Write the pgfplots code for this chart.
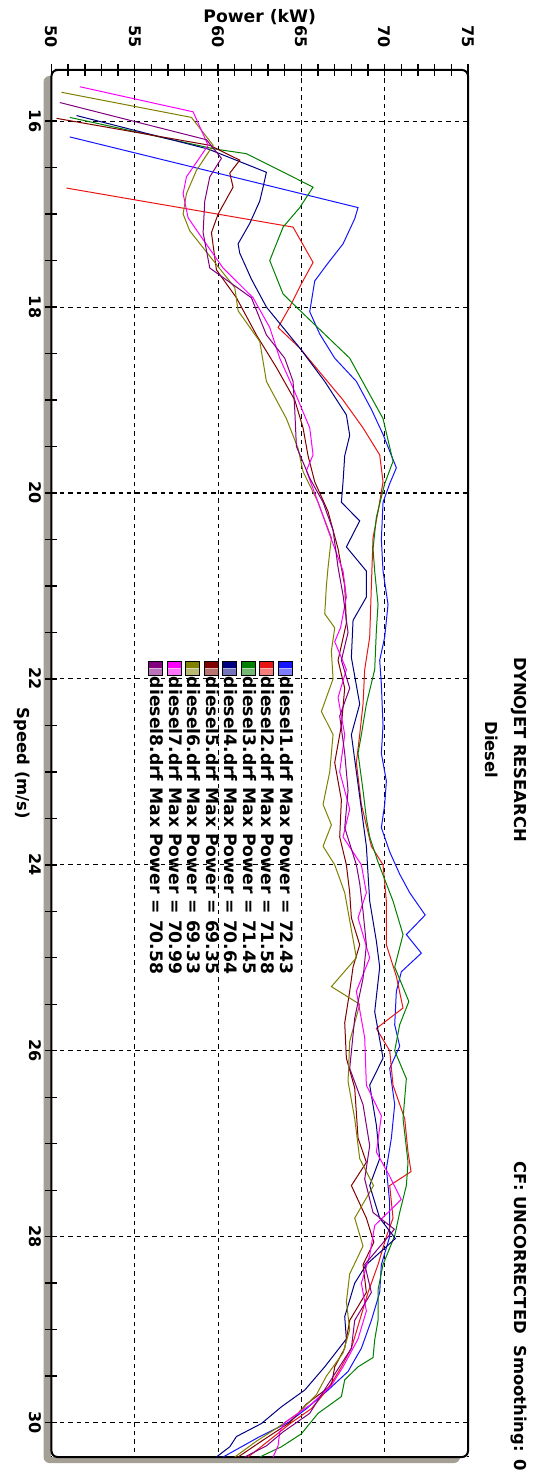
\documentclass[border=0pt]{standalone}
\usepackage{graphicx}
\usepackage{fontspec}
\setmainfont{DejaVu Sans}
\usepackage{pgfplots}
\pgfplotsset{compat=1.18}
\definecolor{cA}{RGB}{20,20,255}
\definecolor{cB}{RGB}{235,20,20}
\definecolor{cC}{RGB}{0,128,0}
\definecolor{cD}{RGB}{0,0,128}
\definecolor{cE}{RGB}{128,0,0}
\definecolor{cF}{RGB}{128,128,0}
\definecolor{cG}{RGB}{255,0,255}
\definecolor{cH}{RGB}{128,0,128}
\definecolor{shadowgray}{RGB}{165,160,150}
\begin{document}
\rotatebox{-90}{%
\begin{tikzpicture}
\fill[shadowgray, rounded corners=3pt] (3pt,-4pt) rectangle (696.5pt,204.25pt);
\begin{axis}[
  at={(0pt,0pt)}, anchor=south west,
  scale only axis, width=693.5pt, height=208.25pt,
  xmin=15.45, xmax=30.37, ymin=50, ymax=75,
  xtick={16,18,...,30}, ytick={50,55,...,75},
  minor x tick num=3, minor y tick num=4,
  grid=major,
  major grid style={black, line width=0.55pt, dash pattern=on 2.2pt off 2pt},
  tick align=center, major tick length=6pt, minor tick length=6pt,
  tick style={black, line width=0.7pt},
  xtick pos=bottom, ytick pos=left,
  axis line style={line width=1pt, black, rounded corners=3pt},
  axis background/.style={fill=white},
  /pgf/number format/assume math mode=true,
  ticklabel style={font=\bfseries\fontsize{8}{9.6}\selectfont},
  xticklabel style={anchor=north, inner sep=0pt, yshift=-2pt},
  yticklabel style={anchor=east, inner sep=0pt, xshift=-8pt},
  legend style={at={(axis cs:21.80,64.6)}, anchor=north west, draw=none, fill=none,
    inner sep=0pt, font=\bfseries\fontsize{8.6}{9}\selectfont, row sep=0pt,
    nodes={inner sep=0.6pt}},
  legend cell align=left,
  legend image code/.code={
    \fill (0pt,-3.5pt) rectangle (7pt,3.5pt);
    \fill[white, opacity=0.45] (3.5pt,-3.5pt) rectangle (7pt,3.5pt);
    \draw[black, line width=0.5pt] (0pt,-3.5pt) rectangle (7pt,3.5pt);
  },
  every axis plot/.append style={line width=0.5pt},
]
% diesel1 (blue)
\addplot[cA] coordinates {
(16.17,51.1)(16.93,68.4)(17.05,68.2)(17.32,67.5)(17.55,66.5)(17.72,65.8)(18.05,65.5)(18.29,66.1)
(18.55,67.0)(18.80,68.3)(19.10,69.2)(19.37,69.9)(19.73,70.7)(19.90,70.3)(20.10,69.9)(20.50,69.8)
(20.84,69.9)(21.20,70.2)(21.55,70.0)(21.80,69.7)(22.06,69.8)(22.50,69.9)(22.80,69.8)(23.10,70.1)
(23.35,70.0)(23.60,69.8)(23.86,70.3)(24.10,70.9)(24.30,71.5)(24.54,72.43)(24.75,71.3)(24.95,72.2)
(25.15,71.0)(25.36,70.7)(25.72,70.6)(25.95,70.9)(26.19,70.3)(26.58,70.6)(26.94,70.4)(27.27,70.1)
(27.63,70.3)(28.00,70.3)(28.30,69.8)(28.60,69.7)(28.90,69.2)(29.20,68.6)(29.45,67.8)(29.65,66.6)
(29.85,65.3)(30.00,64.2)(30.15,62.5)(30.30,61.0)(30.37,60.3)};
\addlegendentry{diesel1.drf Max Power = 72.43}
% diesel2 (red)
\addplot[cB] coordinates {
(16.72,50.9)(17.14,64.5)(17.52,65.7)(17.75,65.0)(18.00,64.3)(18.22,63.6)(18.44,64.9)(18.70,66.1)
(19.00,67.5)(19.30,68.7)(19.59,69.7)(19.88,69.9)(20.20,69.6)(20.48,69.3)(21.00,69.2)(21.55,69.1)
(21.90,68.8)(22.27,68.7)(22.60,68.5)(22.90,68.3)(23.35,68.6)(23.80,69.2)(24.00,69.9)(24.39,70.1)
(24.86,70.1)(25.20,70.7)(25.54,71.1)(25.76,69.5)(26.00,70.3)(26.37,70.5)(26.73,71.2)(27.09,71.4)
(27.30,71.58)(27.45,70.3)(27.80,70.5)(28.00,70.1)(28.30,69.6)(28.60,69.0)(28.90,68.5)(29.20,68.0)
(29.40,67.4)(29.55,66.9)(29.70,66.3)(29.85,65.6)(30.00,64.4)(30.20,63.0)(30.37,61.8)};
\addlegendentry{diesel2.drf Max Power = 71.58}
% diesel3 (green)
\addplot[cC] coordinates {
(15.96,51.1)(16.30,59.8)(16.35,61.7)(16.71,65.7)(16.93,64.9)(17.14,63.9)(17.50,63.1)(17.86,63.9)
(18.00,64.7)(18.55,67.9)(19.20,69.9)(19.66,70.5)(19.90,70.0)(20.26,69.5)(20.60,69.3)(20.84,69.4)
(21.20,69.6)(21.48,69.5)(21.90,69.4)(22.27,68.9)(22.60,68.6)(22.80,68.4)(23.20,68.7)(23.50,68.9)
(23.70,69.1)(23.97,69.6)(24.39,70.5)(24.75,71.1)(25.10,70.6)(25.47,71.45)(25.72,70.9)(26.00,70.6)
(26.30,71.3)(26.73,71.1)(27.20,71.4)(27.45,71.3)(27.74,70.9)(27.99,70.6)(28.30,69.9)(28.57,69.6)
(28.90,69.6)(29.11,69.4)(29.30,69.3)(29.40,68.4)(29.54,67.6)(29.72,67.4)(29.90,66.0)(30.12,65.0)
(30.26,63.8)(30.37,62.5)};
\addlegendentry{diesel3.drf Max Power = 71.45}
% diesel4 (navy)
\addplot[cD] coordinates {
(15.94,51.5)(16.30,59.4)(16.55,62.9)(16.71,62.7)(16.86,62.5)(17.10,61.9)(17.32,61.2)(17.42,61.3)
(17.70,62.0)(18.00,62.9)(18.44,64.9)(18.80,66.4)(19.16,67.7)(19.38,67.9)(19.60,67.6)(19.88,67.5)
(20.10,67.4)(20.30,68.5)(20.58,67.7)(20.84,68.9)(21.12,68.9)(21.37,68.1)(21.77,68.0)(22.27,68.5)
(22.60,68.0)(23.00,68.3)(23.40,68.6)(23.80,68.9)(24.10,69.0)(24.39,69.1)(24.82,69.5)(25.10,69.7)
(25.58,69.4)(26.08,69.9)(26.37,69.1)(26.80,69.5)(27.16,69.7)(27.45,69.1)(27.80,69.7)(28.02,70.64)
(28.30,68.9)(28.50,68.2)(28.86,67.6)(29.10,67.7)(29.40,66.4)(29.65,65.2)(29.83,63.8)(30.01,62.6)
(30.15,61.1)(30.26,60.7)(30.37,59.9)};
\addlegendentry{diesel4.drf Max Power = 70.64}
% diesel5 (maroon)
\addplot[cE] coordinates {
(15.97,50.3)(16.26,59.5)(16.42,61.3)(16.56,60.7)(16.71,60.9)(17.00,60.0)(17.20,59.6)(17.60,59.9)
(17.90,61.1)(18.30,62.3)(18.65,63.5)(19.00,64.6)(19.30,65.1)(19.60,65.4)(19.88,65.8)(20.20,66.6)
(20.60,67.2)(21.00,67.6)(21.40,67.7)(21.80,67.2)(22.10,67.6)(22.50,67.4)(22.90,67.0)(23.30,67.4)
(23.70,67.3)(24.00,67.7)(24.30,67.9)(24.57,68.0)(24.86,68.5)(25.10,68.1)(25.36,67.9)(25.70,67.6)
(26.08,67.7)(26.40,68.2)(26.94,68.4)(27.20,68.9)(27.45,68.0)(27.80,68.9)(28.06,69.35)(28.30,68.7)
(28.60,68.9)(28.90,67.9)(29.20,67.6)(29.40,67.0)(29.60,66.8)(29.80,65.3)(30.00,64.3)(30.20,62.6)
(30.37,61.2)};
\addlegendentry{diesel5.drf Max Power = 69.35}
% diesel6 (olive)
\addplot[cF] coordinates {
(15.69,50.6)(15.96,58.4)(16.26,59.7)(16.53,58.7)(16.78,58.1)(17.00,57.9)(17.18,58.3)(17.43,59.4)
(17.79,61.0)(18.04,61.2)(18.37,62.5)(18.80,62.9)(19.20,64.1)(19.52,64.8)(19.77,65.1)(20.10,66.0)
(20.48,66.8)(20.80,66.6)(21.00,66.5)(21.30,66.4)(21.45,67.0)(21.70,66.8)(22.00,66.9)(22.35,66.2)
(22.60,66.9)(23.00,66.7)(23.35,66.3)(23.57,66.8)(23.80,66.3)(24.00,67.0)(24.30,67.6)(24.60,67.9)
(25.00,68.3)(25.31,66.8)(25.50,68.5)(25.90,67.9)(26.33,67.8)(26.73,68.2)(27.16,68.5)(27.45,69.33)
(27.80,68.2)(28.10,68.7)(28.40,67.9)(28.70,67.7)(29.00,67.9)(29.25,67.5)(29.50,66.5)(29.70,65.9)
(29.90,64.8)(30.05,63.6)(30.20,62.3)(30.37,61.0)};
\addlegendentry{diesel6.drf Max Power = 69.33}
% diesel7 (magenta)
\addplot[cG] coordinates {
(15.63,51.7)(15.90,58.5)(16.26,59.4)(16.60,58.1)(16.78,57.9)(17.04,58.2)(17.30,59.2)(17.58,60.3)
(17.90,62.1)(18.22,63.1)(18.55,63.7)(18.87,64.5)(19.30,65.5)(19.59,65.7)(19.76,65.3)(20.10,66.0)
(20.40,66.6)(20.84,67.5)(21.12,67.7)(21.45,67.35)(21.60,67.0)(21.90,67.7)(22.20,67.2)(22.60,67.6)
(23.00,67.3)(23.40,67.9)(23.70,67.5)(24.00,68.6)(24.30,68.9)(24.57,68.4)(25.00,69.1)(25.36,68.3)
(25.86,68.8)(26.37,68.9)(26.70,69.8)(27.09,69.5)(27.35,70.3)(27.60,70.99)(27.88,69.4)(28.20,69.1)
(28.50,68.6)(28.80,68.9)(29.10,68.4)(29.40,67.5)(29.60,66.8)(29.80,65.6)(30.00,64.0)(30.10,63.7)
(30.25,63.6)(30.37,63.3)};
\addlegendentry{diesel7.drf Max Power = 70.99}
% diesel8 (purple)
\addplot[cH] coordinates {
(15.80,50.5)(16.20,59.3)(16.40,60.2)(16.60,59.5)(16.86,59.2)(17.20,59.1)(17.58,59.5)(17.90,62.0)
(18.30,62.9)(18.55,64.0)(18.80,64.5)(19.10,64.6)(19.50,64.7)(19.84,65.5)(20.10,66.3)(20.40,66.9)
(20.80,67.2)(21.10,67.5)(21.50,67.8)(21.80,67.4)(22.10,67.9)(22.40,67.3)(22.80,67.6)(23.20,67.8)
(23.60,67.6)(24.00,68.3)(24.20,68.5)(24.50,68.7)(24.86,68.9)(25.22,68.7)(25.65,68.2)(26.19,67.9)
(26.58,68.7)(27.02,69.1)(27.38,68.8)(27.74,69.3)(27.92,70.58)(28.30,68.8)(28.60,69.2)(28.90,68.2)
(29.20,68.0)(29.45,67.1)(29.70,66.2)(29.90,65.5)(30.10,63.9)(30.25,62.9)(30.37,61.6)};
\addlegendentry{diesel8.drf Max Power = 70.58}
\end{axis}
\node[font=\bfseries\fontsize{8.2}{10}\selectfont] at (340pt,233.75pt) {DYNOJET RESEARCH};
\node[font=\bfseries\fontsize{8.2}{10}\selectfont] at (340pt,220.25pt) {Diesel};
\node[font=\bfseries\fontsize{8.2}{10}\selectfont, anchor=east] at (704pt,233.75pt) {CF: UNCORRECTED\ \ Smoothing: 0};
\node[font=\bfseries\fontsize{8.6}{10}\selectfont, rotate=90] at (-26.5pt,104.1pt) {Power (kW)};
\node[font=\bfseries\fontsize{8.2}{10}\selectfont] at (346.75pt,-14.75pt) {Speed (m/s)};
\pgfresetboundingbox
\path[use as bounding box] (-35pt,-25.75pt) rectangle (706pt,241.25pt);
\end{tikzpicture}}
\end{document}
